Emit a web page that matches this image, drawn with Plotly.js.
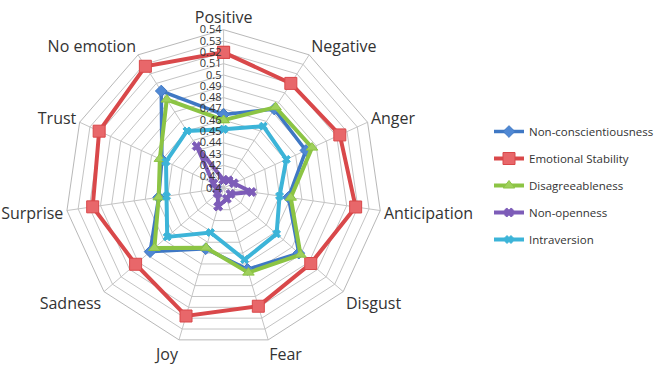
<!DOCTYPE html>
<html>
<head>
<meta charset="utf-8">
<script src="https://cdn.plot.ly/plotly-3.0.1.min.js"></script>
<style>html,body{margin:0;padding:0;background:#fff;}#chart{width:659px;height:375px;}</style>
</head>
<body>
<div id="chart"></div>
<script>
const categories = ["Positive","Negative","Anger","Anticipation","Disgust","Fear","Joy","Sadness","Surprise","Trust","No emotion"];
const nonConscientiousness = [0.465,0.483,0.480,0.458,0.488,0.475,0.456,0.486,0.458,0.460,0.502];
const emotionalStability   = [0.520,0.510,0.513,0.518,0.502,0.509,0.518,0.503,0.517,0.521,0.528];
const disagreeableness     = [0.460,0.485,0.486,0.460,0.490,0.478,0.455,0.481,0.458,0.462,0.493];
const nonOpenness          = [0.407,0.408,0.410,0.425,0.408,0.410,0.417,0.407,0.406,0.410,0.444];
const intraversion         = [0.452,0.465,0.461,0.450,0.462,0.466,0.441,0.466,0.451,0.456,0.460];
const radialTicks = [0.4,0.41,0.42,0.43,0.44,0.45,0.46,0.47,0.48,0.49,0.5,0.51,0.52,0.53,0.54];

function close(a){ return a.concat([a[0]]); }
const theta = close(categories);

function tr(name, vals, color, sym, msize, mcolor, lw, lgroup){
  return {
    type:'scatterpolar', mode:'lines+markers', name:name,
    r: close(vals), theta: theta, legendgroup: lgroup,
    line:{color:color, width:lw},
    marker:{symbol:sym, size:msize, color:mcolor, line:{color:color, width:1}},
    cliponaxis:false
  };
}

const data = [
  tr('Non-conscientiousness', nonConscientiousness, '#3f78c4', 'diamond', 9, '#4f88d4', 3.5, 'a'),
  tr('Emotional Stability', emotionalStability, '#d9484a', 'square', 12, '#e8676a', 4, 'b'),
  tr('Disagreeableness', disagreeableness, '#8cc444', 'triangle-up', 10, '#9fd05c', 4, 'c'),
  tr('Non-openness', nonOpenness, '#7d5cb8', 'x', 8, '#7d5cb8', 4, 'd'),
  tr('Intraversion', intraversion, '#3cb4d8', 'x', 7, '#3cb4d8', 4, 'e')
];

const layout = {
  width:659, height:375,
  margin:{l:0,r:0,t:0,b:0},
  paper_bgcolor:'#fff',
  font:{family:'Open Sans, sans-serif', color:'#333'},
  showlegend:true,
  legend:{x:0.75, y:0.688, xanchor:'left', yanchor:'top', traceorder:'grouped', tracegroupgap:8,
          font:{size:11.5, family:'Open Sans, sans-serif', color:'#333'}, itemwidth:30, bgcolor:'rgba(0,0,0,0)'},
  polar:{
    domain:{x:[0.1002,0.5857], y:[0.072,0.9253]},
    gridshape:'linear',
    bgcolor:'#fff',
    angularaxis:{
      type:'category', categoryarray:categories, rotation:90, direction:'clockwise',
      showline:true, linecolor:'#b8b8b8', linewidth:1,
      gridcolor:'#c4c4c4', gridwidth:1, ticks:'',
      tickfont:{size:16, family:'Open Sans, sans-serif', color:'#333'}
    },
    radialaxis:{
      range:[0.4,0.54], tickvals:radialTicks, ticktext:radialTicks.map(String),
      angle:90, side:'counterclockwise', tickangle:90,
      showline:false, gridcolor:'#c4c4c4', gridwidth:1, ticks:'',
      tickfont:{size:11, family:'Open Sans, sans-serif', color:'#333'}
    }
  }
};

Plotly.newPlot('chart', data, layout, {displayModeBar:false, staticPlot:true});
</script>
</body>
</html>
